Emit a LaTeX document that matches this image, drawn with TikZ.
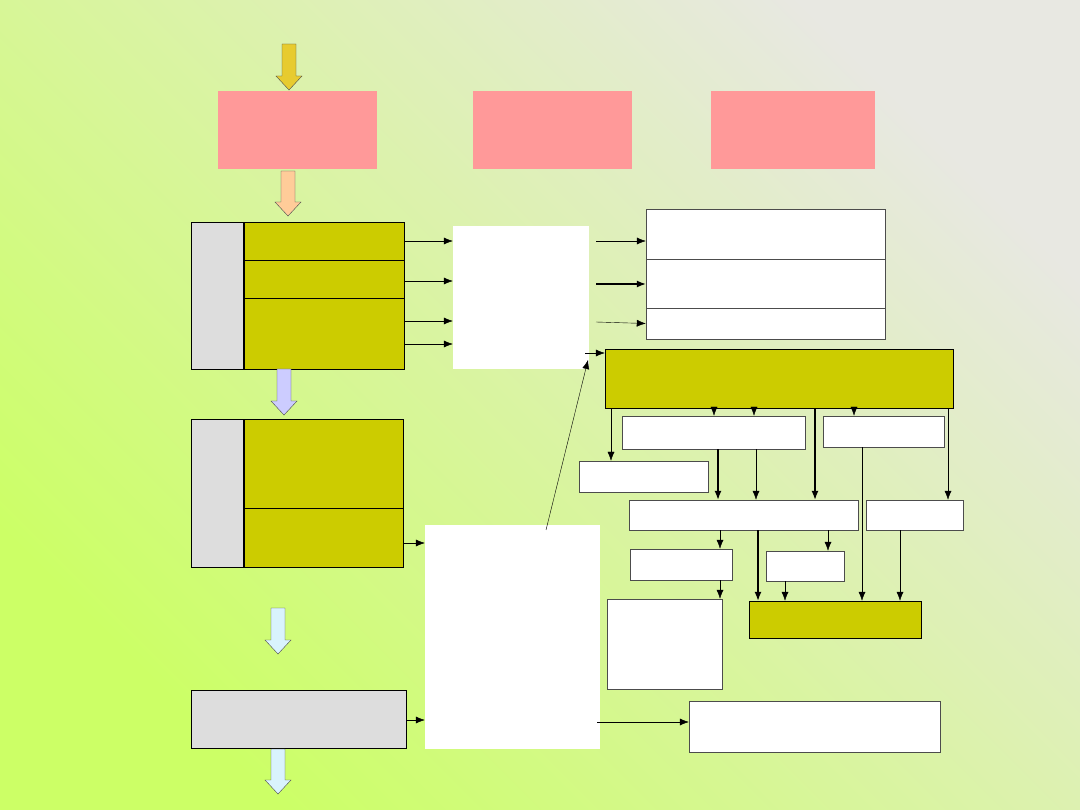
\documentclass[tikz,border=0pt]{standalone}
\usetikzlibrary{arrows.meta}
\newcommand\bx[6]{\node[draw,inner sep=0pt,#6,minimum width={#4-#2},minimum height={#5-#3}] (#1) at ({(#2+#4)/2},{(#3+#5)/2}) {};}
\newcommand\blockarrow[4]{\filldraw[fill=#4,draw=black!70] (#1-7,#2)--(#1+7,#2)--(#1+7,#3-14)--(#1+13,#3-14)--(#1,#3)--(#1-13,#3-14)--(#1-7,#3-14)--cycle;}
\begin{document}
\begin{tikzpicture}[x=1pt,y=-1pt,
  arr/.style={-{Latex[length=9,width=7]},black},
  thk/.style={arr,line width=1.3pt},
  olive/.style={fill=olive0},
  wht/.style={fill=white,draw=black!70},
  pink/.style={fill=pink0,draw=none},
  grey/.style={fill=grey0}]
\definecolor{olive0}{HTML}{CCCC00}
\definecolor{pink0}{HTML}{FF9999}
\definecolor{grey0}{HTML}{DDDDDD}
\useasboundingbox (0,0) rectangle (1080,810);
\shade[shading=axis,bottom color={rgb,255:red,204;green,255;blue,102},top color={rgb,255:red,232;green,232;blue,226},shading angle=-45] (0,0) rectangle (1080,810);
\blockarrow{289}{44}{90}{yellow!60!brown}
\bx{p1}{218}{91}{377}{169}{pink}
\bx{p2}{473}{91}{632}{169}{pink}
\bx{p3}{711}{91}{875}{169}{pink}
\blockarrow{288}{171}{216}{orange!40}
\bx{g1}{191}{222}{243}{369}{grey}
\bx{o1}{244}{222}{404}{260}{olive}
\bx{o2}{244}{260}{404}{298}{olive}
\bx{o3}{244}{298}{404}{369}{olive}
\bx{w1}{453}{226}{589}{369}{fill=white,draw=none}
\draw[arr] (o1.east)--(w1.west|-o1.east);
\draw[arr] (404,281)--(w1.west|-404,281);
\draw[arr] (404,321)--(w1.west|-404,321);
\draw[arr] (404,344)--(w1.west|-404,344);
\bx{r1}{646}{209}{885}{259}{wht}
\bx{r2}{646}{259}{885}{308}{wht}
\bx{r3}{646}{308}{885}{339}{wht}
\draw[arr] (596,241)--(r1.west|-596,241);
\draw[thk] (596,284)--(r2.west|-596,284);
\draw[arr] (596,322)--(r3.west);
\bx{big}{605}{349}{953}{408}{olive}
\draw[arr] (585,353)--(big.west|-585,353);
\blockarrow{284}{369}{415}{blue!20}
\bx{g2}{191}{419}{243}{567}{grey}
\bx{o4}{244}{419}{403}{508}{olive}
\bx{o5}{244}{508}{403}{567}{olive}
\bx{w2}{425}{525}{600}{749}{fill=white,draw=none}
\draw[arr] (403,543)--(w2.west|-403,543);
\draw[arr] (546,530)--(588,360);
\bx{A}{622}{416}{805}{449}{wht}
\bx{B}{823}{416}{944}{447}{wht}
\bx{C}{579}{461}{708}{492}{wht}
\bx{D}{629}{500}{858}{530}{wht}
\bx{E}{866}{500}{963}{530}{wht}
\bx{F}{630}{549}{732}{580}{wht}
\bx{G}{766}{551}{844}{581}{wht}
\bx{H}{607}{599}{722}{689}{wht}
\bx{I}{749}{601}{921}{638}{olive}
\draw[arr] (big.south-|611,0)--(C.north-|611,0);
\draw[arr] (big.south-|714,0)--(A.north-|714,0);
\draw[arr] (big.south-|754,0)--(A.north-|754,0);
\draw[arr] (big.south-|854,0)--(B.north-|854,0);
\draw[thk] (big.south-|815,0)--(D.north-|815,0);
\draw[arr] (big.south-|948,0)--(E.north-|948,0);
\draw[thk] (A.south-|718,0)--(D.north-|718,0);
\draw[arr] (A.south-|756,0)--(D.north-|756,0);
\draw[arr] (B.south-|862,0)--(I.north-|862,0);
\draw[arr] (D.south-|720,0)--(F.north-|720,0);
\draw[arr] (D.south-|828,0)--(G.north-|828,0);
\draw[thk] (D.south-|758,0)--(I.north-|758,0);
\draw[arr] (E.south-|900,0)--(I.north-|900,0);
\draw[arr] (F.south-|720,0)--(H.north-|720,0);
\draw[arr] (G.south-|785,0)--(I.north-|785,0);
\blockarrow{278}{608}{654}{cyan!15}
\bx{g3}{191}{690}{406}{748}{grey}
\blockarrow{278}{749}{794}{cyan!15}
\draw[arr] (g3.east|-406,720)--(w2.west|-406,720);
\bx{K}{689}{701}{940}{752}{wht}
\draw[arr] (597,722)--(K.west|-597,722);
\end{tikzpicture}
\end{document}
